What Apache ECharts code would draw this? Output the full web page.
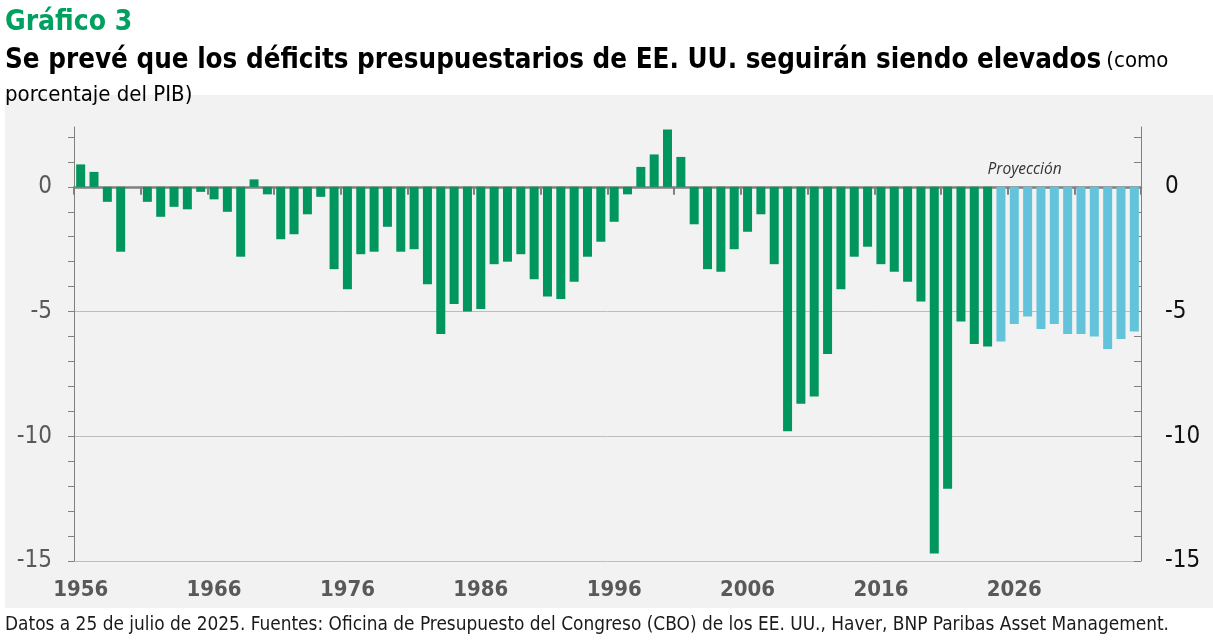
<!DOCTYPE html>
<html>
<head>
<meta charset="utf-8">
<script src="https://cdn.jsdelivr.net/npm/echarts@6/dist/echarts.min.js"></script>
<style>
    html, body { margin: 0; padding: 0; background: #ffffff; }
    #chart { width: 1213px; height: 640px; }
</style>
</head>
<body>
<div id="chart"></div>
<script>
// años 1956-2035, déficit (-) / superávit (+) en % del PIB
var years = [];
for (var y = 1956; y <= 2035; y++) { years.push(String(y)); }

var histYears = ['1956', '2024'];
var histValues = [
    0.9, 0.6, -0.6, -2.6, 0.0, -0.6, -1.2, -0.8, -0.9, -0.2,
    -0.5, -1.0, -2.8, 0.3, -0.3, -2.1, -1.9, -1.1, -0.4, -3.3,
    -4.1, -2.7, -2.6, -1.6, -2.6, -2.5, -3.9, -5.9, -4.7, -5.0,
    -4.9, -3.1, -3.0, -2.7, -3.7, -4.4, -4.5, -3.8, -2.8, -2.2,
    -1.4, -0.3, 0.8, 1.3, 2.3, 1.2, -1.5, -3.3, -3.4, -2.5,
    -1.8, -1.1, -3.1, -9.8, -8.7, -8.4, -6.7, -4.1, -2.8, -2.4,
    -3.1, -3.4, -3.8, -4.6, -14.7, -12.1, -5.4, -6.3, -6.4
];
var projYears = ['2025', '2035'];
var projValues = [-6.2, -5.5, -5.2, -5.7, -5.5, -5.9, -5.9, -6.0, -6.5, -6.1, -5.8];

var yTicks = [-15, -14, -13, -12, -11, -10, -9, -8, -7, -6, -5, -4, -3, -2, -1, 0, 1, 2];
var yLabels = [-15, -10, -5, 0];

var green = '#00965e';
var blue = '#62c3db';
var narrow = "'Liberation Sans Narrow', 'DejaVu Sans Condensed', sans-serif";

function padSeries(values, firstYear) {
    var start = years.indexOf(firstYear);
    return years.map(function (yr, i) {
        var k = i - start;
        return (k >= 0 && k < values.length) ? values[k] : null;
    });
}

var chart = echarts.init(document.getElementById('chart'));

var yAxisBase = {
    type: 'value',
    min: -15,
    max: 2.4,
    interval: 5,
    axisLine: { show: true, lineStyle: { color: '#808080', width: 1 } },
    axisTick: { show: true, customValues: yTicks, length: 6, lineStyle: { color: '#808080', width: 1 } },
    splitLine: { show: false }
};

chart.setOption({
    animation: false,
    title: [
        {
            text: 'Gráfico 3',
            left: 5, top: 9, padding: 0,
            textStyle: { fontFamily: narrow, fontWeight: 'bold', fontSize: 28, color: '#00a060' }
        },
        {
            text: '{b|Se prevé que los déficits presupuestarios de EE. UU. seguirán siendo elevados} {n|(como}\n{n|porcentaje del PIB)}',
            left: 5, top: 44, padding: 0,
            textStyle: {
                rich: {
                    b: { fontFamily: narrow, fontWeight: 'bold', fontSize: 27.5, color: '#000000', lineHeight: 34 },
                    n: { fontFamily: narrow, fontWeight: 'normal', fontSize: 22, color: '#000000', lineHeight: 34 }
                }
            }
        },
        {
            text: 'Datos a 25 de julio de 2025. Fuentes: Oficina de Presupuesto del Congreso (CBO) de los EE. UU., Haver, BNP Paribas Asset Management.',
            left: 5, top: 616, padding: 0,
            textStyle: { fontFamily: narrow, fontWeight: 'normal', fontSize: 18.9, color: '#1a1a1a' }
        }
    ],
    graphic: [
        { type: 'rect', z: -10, shape: { x: 5, y: 95, width: 1208, height: 513 }, style: { fill: '#f2f2f2' } }
    ],
    grid: { left: 74, right: 72, top: 127, bottom: 79, containLabel: false },
    xAxis: [
        {
            type: 'category',
            data: years,
            position: 'bottom',
            axisLine: { show: false, onZero: false },
            axisTick: { show: false },
            axisLabel: {
                interval: 9, margin: 18,
                fontFamily: narrow, fontWeight: 'bold', fontSize: 22, color: '#595959'
            }
        },
        {
            type: 'category',
            data: years,
            position: 'bottom',
            axisLine: { show: true, onZero: true, lineStyle: { color: '#808080', width: 2.5 } },
            axisTick: { show: true, interval: 4, length: 8, lineStyle: { color: '#808080', width: 2 } },
            axisLabel: { show: false }
        }
    ],
    yAxis: [
        Object.assign({}, yAxisBase, {
            position: 'left',
            axisTick: Object.assign({}, yAxisBase.axisTick, { inside: false }),
            axisLabel: {
                customValues: yLabels, margin: 22,
                fontFamily: narrow, fontSize: 24, color: '#595959'
            }
        }),
        Object.assign({}, yAxisBase, {
            position: 'right',
            axisTick: Object.assign({}, yAxisBase.axisTick, { inside: true, length: 7 }),
            axisLabel: {
                customValues: yLabels, margin: 24,
                fontFamily: narrow, fontSize: 24, color: '#111111'
            }
        }),
        // eje oculto solo para las líneas de cuadrícula cada 5 puntos
        {
            type: 'value',
            min: -15,
            max: 2.4,
            interval: 5,
            position: 'left',
            axisLine: { show: false },
            axisTick: { show: false },
            axisLabel: { show: false },
            splitLine: {
                show: true,
                lineStyle: { color: ['#bdbdbd', '#bdbdbd', '#bdbdbd', '#bdbdbd', 'rgba(0,0,0,0)'], width: 1 }
            }
        }
    ],
    series: [
        {
            name: 'Histórico',
            type: 'bar',
            xAxisIndex: 0,
            yAxisIndex: 0,
            barWidth: 9,
            barGap: '-100%',
            itemStyle: { color: green },
            data: padSeries(histValues, histYears[0])
        },
        {
            name: 'Proyección',
            type: 'bar',
            xAxisIndex: 0,
            yAxisIndex: 0,
            barWidth: 9,
            barGap: '-100%',
            itemStyle: { color: blue },
            data: padSeries(projValues, projYears[0]),
            markPoint: {
                symbol: 'circle',
                symbolSize: 0,
                data: [{ coord: ['2027', 0.7] }],
                label: {
                    show: true,
                    offset: [-3, 0],
                    formatter: 'Proyección',
                    fontFamily: "'Open Sans', sans-serif",
                    fontStyle: 'italic',
                    fontSize: 15.5,
                    color: '#333333'
                }
            }
        }
    ]
});
</script>
</body>
</html>
